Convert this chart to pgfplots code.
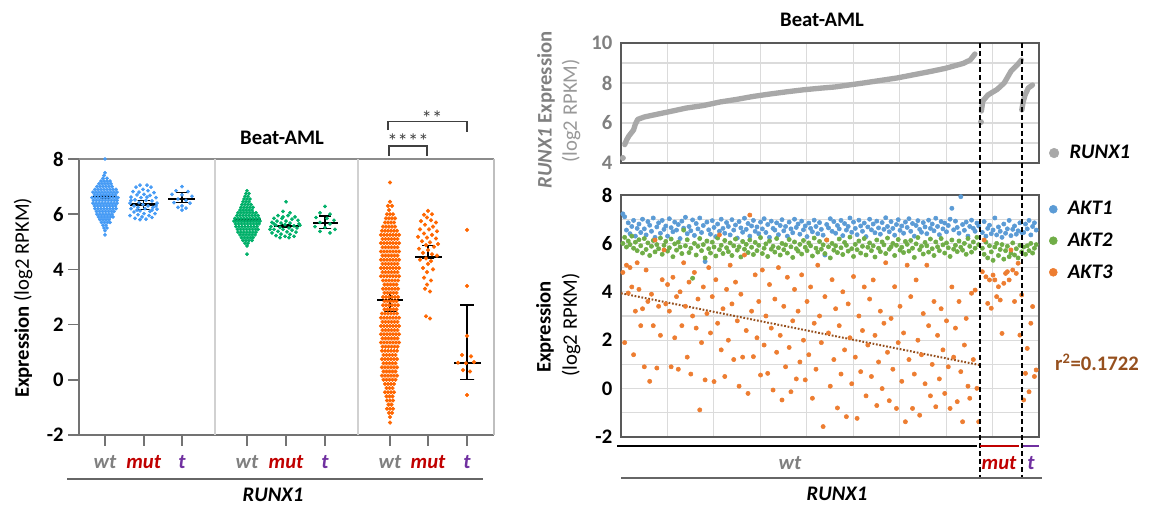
\documentclass[border=0pt]{standalone}
\usepackage{fontspec}
\setmainfont{Carlito}
\usepackage{pgfplots}
\usepackage{pgfplotstable}
\pgfplotsset{compat=1.18}
\definecolor{lblue}{RGB}{70,155,245}
\definecolor{lgreen}{RGB}{0,176,105}
\definecolor{lorange}{RGB}{255,102,0}
\definecolor{rblue}{RGB}{91,155,213}
\definecolor{rgreen}{RGB}{112,173,71}
\definecolor{rorange}{RGB}{237,125,49}
\definecolor{rgray}{RGB}{168,168,168}
\definecolor{wtc}{RGB}{128,128,128}
\definecolor{mutc}{RGB}{192,0,0}
\definecolor{tc}{RGB}{112,48,160}
\definecolor{brn}{RGB}{150,80,30}
\newcommand\F{\fontsize{15.5}{18.6}\selectfont}
\newcommand\swarm[3]{\pgfplotsinvokeforeach{#3}{\addplot[only marks, mark=*, mark size=1.2pt, color=#2, forget plot] table[x=##1, y=y] {#1};}}
\newcommand\med[3]{\addplot[black, line width=1.6pt, forget plot] coordinates {(#1,#3)(#2,#3)};}

\pgfplotstableread{
y a b c d e f g h i j
8.0 105 nan nan nan nan nan nan nan nan nan
7.5 105 nan nan nan nan nan nan nan nan nan
7.4 104 nan nan nan nan nan nan nan nan nan
7.3 103 107 nan nan nan nan nan nan nan nan
7.2 101 104 107 110 nan nan nan nan nan nan
7.1 99 102 105 108 111 nan nan nan nan nan
7.0 97 100 103 106 109 112 nan nan nan nan
6.9 95 98 101 104 107 110 113 116 nan nan
6.8 93 96 99 102 105 108 111 114 117 nan
6.7 94.5 97.5 100.5 103.5 106.5 109.5 112.5 115.5 nan nan
6.6 92 95 98 101 104 107 110 113 116 118
6.5 93.5 96.5 99.5 102.5 105.5 108.5 111.5 114.5 117 nan
6.4 93 96 99 102 105 108 111 114 117 nan
6.3 94.5 97.5 100.5 103.5 106.5 109.5 112.5 115.5 nan nan
6.2 95 98 101 104 107 110 113 116 nan nan
6.1 96.5 99.5 102.5 105.5 108.5 111.5 114 nan nan nan
6.0 97 100 103 106 109 112 nan nan nan nan
5.9 98.5 101.5 104.5 107.5 110.5 113 nan nan nan nan
5.8 100 103 106 109 nan nan nan nan nan nan
5.7 101.5 104.5 107.5 110 nan nan nan nan nan nan
5.6 103 106 nan nan nan nan nan nan nan nan
5.5 104 107 nan nan nan nan nan nan nan nan
5.4 105 nan nan nan nan nan nan nan nan nan
5.25 105 nan nan nan nan nan nan nan nan nan
}\bWT

\pgfplotstableread{
y a b c d e f g h i j
6.85 247 nan nan nan nan nan nan nan nan nan
6.75 246 249 nan nan nan nan nan nan nan nan
6.65 245 248 nan nan nan nan nan nan nan nan
6.55 244 247 250 nan nan nan nan nan nan nan
6.45 243 246 249 nan nan nan nan nan nan nan
6.35 242 245 248 251 nan nan nan nan nan nan
6.25 241 244 247 250 253 nan nan nan nan nan
6.15 240 243 246 249 252 nan nan nan nan nan
6.05 238 241 244 247 250 253 256 nan nan nan
5.95 237 240 243 246 249 252 255 258 nan nan
5.85 235 238 241 244 247 250 253 256 259 nan
5.75 234 237 240 243 246 249 252 255 258 260
5.65 235.5 238.5 241.5 244.5 247.5 250.5 253.5 256.5 259 nan
5.55 236 239 242 245 248 251 254 257 nan nan
5.45 237.5 240.5 243.5 246.5 249.5 252.5 255.5 258 nan nan
5.35 238 241 244 247 250 253 256 nan nan nan
5.25 240 243 246 249 252 255 nan nan nan nan
5.15 241.5 244.5 247.5 250.5 253 nan nan nan nan nan
5.05 243 246 249 252 nan nan nan nan nan nan
4.95 245 248 nan nan nan nan nan nan nan nan
4.85 247 nan nan nan nan nan nan nan nan nan
4.55 247 nan nan nan nan nan nan nan nan nan
}\gWT

\pgfplotstableread{
y a b c d e f g
7.15 390 nan nan nan nan nan nan
6.45 390 nan nan nan nan nan nan
6.3 388 392 nan nan nan nan nan
6.15 389 nan nan nan nan nan nan
6.0 387 390 393 nan nan nan nan
5.85 386 389 392 395 nan nan nan
5.7 385 388 391 394 nan nan nan
5.55 383 386 389 392 395 nan nan
5.4 382 385 388 391 394 397 nan
5.25 381 384 387 390 393 396 399
5.1 382.5 385.5 388.5 391.5 394.5 397.5 nan
4.95 381 384 387 390 393 396 399
4.8 382.5 385.5 388.5 391.5 394.5 397.5 nan
4.65 381 384 387 390 393 396 399
4.5 382.5 385.5 388.5 391.5 394.5 397.5 nan
4.35 381 384 387 390 393 396 399
4.2 382.5 385.5 388.5 391.5 394.5 397.5 nan
4.05 381 384 387 390 393 396 399
3.9 382.5 385.5 388.5 391.5 394.5 397.5 nan
3.75 381 384 387 390 393 396 399
3.6 383 386 389 392 395 398 nan
3.45 384.5 387.5 390.5 393.5 396.5 nan nan
3.3 383 386 389 392 395 398 nan
3.15 384.5 387.5 390.5 393.5 396.5 nan nan
3.0 383 386 389 392 395 398 nan
2.85 384.5 387.5 390.5 393.5 396.5 nan nan
2.7 383 386 389 392 395 398 nan
2.55 384.5 387.5 390.5 393.5 396.5 nan nan
2.4 382 385 388 391 394 397 nan
2.25 381 384 387 390 393 396 399
2.1 382.5 385.5 388.5 391.5 394.5 397.5 nan
1.95 381 384 387 390 393 396 399
1.8 382.5 385.5 388.5 391.5 394.5 397.5 nan
1.65 381 384 387 390 393 396 399
1.5 382.5 385.5 388.5 391.5 394.5 397.5 nan
1.35 381 384 387 390 393 396 399
1.2 382.5 385.5 388.5 391.5 394.5 397.5 nan
1.05 382 385 388 391 394 397 nan
0.9 383.5 386.5 389.5 392.5 395.5 nan nan
0.75 382 385 388 391 394 397 nan
0.6 383.5 386.5 389.5 392.5 395.5 nan nan
0.45 382 385 388 391 394 397 nan
0.3 383.5 386.5 389.5 392.5 395.5 nan nan
0.15 382 385 388 391 394 397 nan
0.0 383.5 386.5 389.5 392.5 395.5 nan nan
-0.15 385 388 391 394 nan nan nan
-0.3 386.5 389.5 392.5 nan nan nan nan
-0.45 385 388 391 394 nan nan nan
-0.6 386.5 389.5 392.5 nan nan nan nan
-0.75 387 390 393 nan nan nan nan
-0.9 388.5 391.5 nan nan nan nan nan
-1.05 387 390 393 nan nan nan nan
-1.2 389 392 nan nan nan nan nan
-1.35 390 nan nan nan nan nan nan
-1.55 390 nan nan nan nan nan nan
}\oWT

\pgfplotstableread{
a b c
7.22 6.00 4.80
7.10 6.25 1.90
6.55 5.85 5.10
6.85 6.10 3.95
6.40 5.95 5.00
6.70 6.30 4.20
6.95 5.80 1.40
6.30 6.05 3.20
6.62 5.70 5.20
6.80 6.15 4.10
6.45 5.90 2.60
7.00 5.60 3.30
6.60 6.20 0.90
6.35 5.75 4.90
6.90 6.02 3.60
6.75 5.50 0.30
6.50 5.88 3.90
7.05 6.12 2.60
6.25 5.65 6.14
6.68 5.95 0.85
6.85 5.78 3.40
6.42 6.22 2.20
6.95 5.55 4.50
6.58 5.92 5.73
6.72 6.08 3.50
6.30 5.68 4.30
7.02 5.82 3.20
6.65 6.18 0.90
6.48 5.45 4.60
6.88 5.98 2.10
6.55 5.72 3.80
6.78 6.05 0.80
6.20 5.85 4.00
6.92 5.58 2.60
6.63 6.55 5.20
7.08 5.90 3.40
6.40 6.15 1.30
6.70 5.62 4.40
6.52 5.80 0.60
6.97 4.56 3.00
6.33 6.00 4.80
6.82 5.52 2.50
6.60 5.88 3.70
7.05 6.20 -0.88
6.45 5.70 1.90
6.74 5.95 4.20
5.25 5.40 0.36
6.88 6.10 3.10
6.56 5.78 5.00
6.38 5.60 2.30
6.94 6.05 3.80
6.66 5.85 0.29
6.28 5.48 4.50
6.80 6.22 2.70
6.50 5.74 6.35
7.00 5.92 1.60
6.62 5.58 3.30
6.42 6.12 0.50
6.86 5.82 4.10
6.70 5.66 2.00
6.35 6.02 5.10
6.98 5.50 3.50
6.55 5.90 1.20
6.76 6.18 4.40
6.22 5.72 2.80
6.90 5.86 0.10
6.64 5.44 3.90
6.46 6.08 1.30
7.04 5.76 5.52
6.58 5.96 2.40
6.82 5.62 -0.20
6.30 6.14 7.17
6.72 5.84 3.20
6.95 5.54 1.32
6.50 6.04 4.70
6.68 5.70 2.10
6.40 5.92 3.60
6.88 6.24 0.56
6.60 5.58 4.90
7.02 5.80 1.80
6.45 5.98 3.00
6.78 5.46 0.63
6.25 6.10 4.30
6.92 5.76 2.50
6.62 5.88 -0.06
6.55 5.64 3.70
6.85 6.20 1.50
6.36 5.82 5.00
6.74 5.52 2.20
6.98 6.00 -0.47
6.52 5.74 3.40
6.70 5.94 0.90
6.30 5.60 4.60
6.88 6.16 1.70
6.60 5.86 -0.13
6.44 5.42 2.80
7.00 6.06 4.10
6.66 5.78 0.40
6.80 5.68 3.20
6.38 5.96 1.10
6.92 5.56 4.70
6.56 6.12 2.00
6.72 5.84 0.36
6.28 5.70 3.60
6.84 6.02 1.40
6.62 5.90 4.20
6.48 5.48 -0.40
6.96 6.22 2.70
6.70 5.80 0.80
6.40 5.64 5.10
6.86 6.08 3.00
6.58 5.76 1.90
6.34 5.94 -1.57
5.52 5.58 3.80
6.78 6.14 6.14
6.64 5.86 2.30
7.02 5.40 0.10
6.50 6.00 4.50
6.90 5.72 1.20
6.42 5.90 3.30
6.74 5.62 -0.80
6.60 6.18 2.60
6.95 5.82 0.60
6.32 5.54 4.00
6.82 6.04 1.60
6.55 5.92 -1.16
6.70 5.68 3.50
7.05 6.26 2.10
6.46 5.78 0.20
6.88 5.46 4.63
6.62 5.96 1.30
6.36 5.74 -1.23
6.96 6.10 3.00
6.72 5.60 0.70
6.50 5.88 2.40
6.84 6.20 4.20
6.28 5.52 -0.30
6.68 5.84 1.80
7.00 6.02 3.70
6.56 5.70 0.50
6.80 5.90 4.49
6.44 5.44 2.20
6.92 6.14 -0.70
6.64 5.80 1.10
6.38 5.66 3.20
6.86 6.06 0.00
6.58 5.94 2.70
7.06 5.58 5.20
6.70 6.22 1.50
6.48 5.76 -0.50
6.90 5.86 2.90
6.62 6.00 0.80
6.34 5.50 4.21
6.78 5.92 -0.82
6.98 6.16 1.90
6.54 5.72 3.40
6.72 5.84 0.30
6.42 5.62 2.30
6.88 6.08 -1.37
6.66 5.96 5.10
7.02 5.68 1.20
6.50 6.12 3.80
6.82 5.80 -0.82
6.30 5.42 0.60
6.74 5.98 4.49
6.94 6.24 2.00
6.58 5.74 -1.10
6.46 5.88 1.40
6.86 5.56 3.10
6.68 6.04 0.20
6.40 5.90 5.10
6.96 5.64 2.60
6.62 6.18 -0.30
6.80 5.78 1.00
6.52 5.50 3.60
7.04 6.06 -0.75
6.70 5.86 2.20
6.36 5.70 0.40
6.90 6.20 3.30
6.60 5.94 1.60
6.84 5.60 -0.20
6.48 6.02 2.80
6.74 5.82 0.90
7.00 5.46 -0.82
7.45 6.14 4.20
6.56 5.76 1.30
6.92 5.92 2.50
6.66 5.66 -0.54
6.42 6.10 3.60
7.93 5.84 0.70
6.78 5.72 -1.37
6.54 6.00 1.80
6.88 5.55 2.90
6.30 6.20 0.10
6.70 5.88 -0.40
6.96 5.64 3.94
6.62 6.06 1.20
6.50 5.80 4.07
6.84 6.25 0.01
6.72 5.95 -1.37
}\wtT

\pgfplotstableread{
a b c
6.45 5.80 4.83
6.90 5.55 6.14
6.30 6.05 4.62
6.62 5.40 3.52
6.75 5.90 4.49
6.40 5.65 3.32
6.55 5.30 4.69
7.05 5.85 4.49
6.35 6.00 3.80
6.68 5.50 4.21
6.50 5.75 3.66
6.25 5.95 2.28
6.80 5.35 4.35
6.42 5.70 4.76
6.60 5.88 4.83
6.95 5.45 4.49
6.32 5.60 5.73
6.58 6.02 4.90
6.72 5.52 3.60
6.38 5.78 4.76
6.52 5.40 5.18
6.85 5.92 2.21
6.45 5.65 3.87
}\mutT

\pgfplotstableread{
a b c
6.45 5.85 -0.47
6.80 5.55 0.63
6.60 5.90 1.66
6.95 5.70 -0.13
6.35 6.00 2.70
6.70 5.60 3.39
6.85 5.80 0.50
6.55 5.95 0.77
}\tT

\begin{document}
\begin{tikzpicture}[x=0.75pt,y=0.75pt]
\useasboundingbox (0,0) rectangle (1157,506);

% ---------------- left panel ----------------
\begin{axis}[at={(59.25pt,53.25pt)}, anchor=south west, scale only axis,
  width=311.25pt, height=207pt,
  xmin=79, xmax=494, ymin=-2, ymax=8, clip=false,
  axis x line*=bottom, axis y line*=left,
  x axis line style={-, draw=black!55, line width=1.2pt},
  y axis line style={-, draw=black!55, line width=1.2pt},
  xtick={105,143.7,182,247,286,325,390,428,467},
  xticklabels={\textcolor{wtc}{wt},\textcolor{mutc}{mut},\textcolor{tc}{t},\textcolor{wtc}{wt},\textcolor{mutc}{mut},\textcolor{tc}{t},\textcolor{wtc}{wt},\textcolor{mutc}{mut},\textcolor{tc}{t}},
  x tick label style={font=\F\bfseries\itshape, yshift=-3.5pt},
  ytick={-2,0,2,4,6,8}, yticklabels={-2,0,2,4,6,8},
  y tick label style={font=\F\bfseries, xshift=0pt},
  tick align=outside, major tick length=8pt,
  tick style={black!55, line width=1.2pt},
]
\draw[black!45, line width=1.2pt] (rel axis cs:0,1) -- (rel axis cs:1,1);
\draw[black!25, line width=1.2pt] (rel axis cs:1,1) -- (rel axis cs:1,0);
\draw[black!18, line width=1.2pt] (axis cs:215,-2) -- (axis cs:215,8);
\draw[black!18, line width=1.2pt] (axis cs:358,-2) -- (axis cs:358,8);

\swarm{\bWT}{lblue}{a,b,c,d,e,f,g,h,i,j}
\addplot[only marks, mark=*, mark size=1.2pt, color=lblue, forget plot] coordinates {
(140,7.05)(147,7.05)(136,6.98)(151,6.98)(143,6.9)(133,6.82)(139,6.8)(148,6.85)(154,6.78)(137,6.7)(144,6.72)(150,6.68)(131,6.62)(141,6.6)(156,6.6)(147,6.62)(135,6.52)(146,6.5)(152,6.48)(131,6.5)(139,6.42)(130,6.4)(157,6.4)(143,6.35)(148,6.3)(134,6.3)(156,6.3)(138,6.25)(153,6.25)(131,6.2)(145,6.2)(157,6.18)(137,6.15)(152,6.15)(140,6.12)(150,6.1)(134,6.08)(144,6.02)(155,6.02)(138,5.98)(130,5.95)(149,5.95)(142,5.9)(135,5.85)(152,5.88)(146,5.82)(140,5.8)};
\addplot[only marks, mark=*, mark size=1.2pt, color=lblue, forget plot] coordinates {
(182,7.0)(176,6.85)(188,6.82)(172,6.72)(182,6.7)(192,6.65)(178,6.55)(186,6.5)(174,6.42)(190,6.4)(182,6.3)(178,6.25)(186,6.22)(182,6.15)};

\swarm{\gWT}{lgreen}{a,b,c,d,e,f,g,h,i,j}
\addplot[only marks, mark=*, mark size=1.2pt, color=lgreen, forget plot] coordinates {
(286,6.45)(283,6.1)(290,6.05)(278,5.95)(288,5.95)(295,5.9)(274,5.85)(282,5.85)(292,5.82)(298,5.78)(277,5.75)(286,5.75)(272,5.7)(281,5.68)(290,5.68)(299,5.65)(276,5.6)(285,5.62)(294,5.58)(271,5.55)(280,5.52)(289,5.5)(297,5.5)(274,5.45)(283,5.45)(292,5.42)(278,5.38)(287,5.36)(296,5.35)(272,5.32)(281,5.28)(290,5.27)(276,5.22)(285,5.2)(294,5.2)(280,5.15)(289,5.15)(274,5.65)(300,5.6)(283,5.9)(270,5.45)};
\addplot[only marks, mark=*, mark size=1.2pt, color=lgreen, forget plot] coordinates {
(325,6.28)(320,6.05)(330,6.0)(316,5.88)(327,5.85)(334,5.78)(320,5.7)(330,5.65)(315,5.55)(325,5.52)(335,5.45)(320,5.38)(330,5.32)};

\pgfplotsinvokeforeach{a,b,c,d,e,f,g}{\addplot[only marks, mark=*, mark size=1.35pt, color=lorange, forget plot] table[x=#1, y=y] {\oWT};}
\addplot[only marks, mark=*, mark size=1.35pt, color=lorange, forget plot] coordinates {
(428,6.12)(424,5.98)(432,6.0)(427,5.88)(421,5.75)(431,5.78)(436,5.7)(425,5.62)(433,5.55)(420,5.45)(429,5.45)(437,5.38)(424,5.3)(432,5.25)(418,5.18)(427,5.15)(436,5.12)(422,5.02)(430,4.98)(438,4.92)(426,4.88)(434,4.82)(419,4.75)(428,4.7)(423,4.6)(432,4.55)(437,4.5)(426,4.4)(420,4.35)(431,4.3)(428,4.2)(423,4.05)(433,4.0)(427,3.9)(424,3.7)(431,3.6)(427,3.45)(425,3.3)(430,3.2)(426,2.3)(430,2.22)};
\addplot[only marks, mark=*, mark size=1.35pt, color=lorange, forget plot] coordinates {
(467,5.43)(467,3.4)(467,1.59)(462,0.9)(471,0.85)(458,0.62)(466,0.6)(474,0.64)(463,0.35)(470,0.3)(467,-0.55)};

% medians and error bars
\med{93}{117}{6.63}
\med{130}{157}{6.35}
\med{168}{195}{6.55}
\med{234}{261}{5.79}
\med{274}{299}{5.58}
\med{313}{338}{5.69}
\med{377}{403}{2.89}
\med{415}{442}{4.46}
\med{454}{481}{0.6}
\addplot[black, line width=1pt, forget plot] coordinates {(100,6.58)(110,6.58)(105,6.58)(105,6.68)(100,6.68)(110,6.68)};
\addplot[black, line width=1pt, forget plot] coordinates {(137.7,6.17)(149.7,6.17)(143.7,6.17)(143.7,6.49)(137.7,6.49)(149.7,6.49)};
\addplot[black, line width=1pt, forget plot] coordinates {(176,6.43)(188,6.43)(182,6.43)(182,6.79)(176,6.79)(188,6.79)};
\addplot[black, line width=1pt, forget plot] coordinates {(242,5.75)(252,5.75)(247,5.75)(247,5.83)(242,5.83)(252,5.83)};
\addplot[black, line width=1pt, forget plot] coordinates {(281,5.53)(291,5.53)(286,5.53)(286,5.63)(281,5.63)(291,5.63)};
\addplot[black, line width=1pt, forget plot] coordinates {(319,5.49)(331,5.49)(325,5.49)(325,5.93)(319,5.93)(331,5.93)};
\addplot[black, line width=1pt, forget plot] coordinates {(383.5,2.47)(396.5,2.47)(390,2.47)(390,3.16)(383.5,3.16)(396.5,3.16)};
\addplot[black, line width=1pt, forget plot] coordinates {(422,4.4)(434,4.4)(428,4.4)(428,4.86)(422,4.86)(434,4.86)};
\addplot[black, line width=1pt, forget plot] coordinates {(460,0.0)(474,0.0)(467,0.0)(467,2.71)(460,2.71)(474,2.71)};

% significance brackets
\draw[black!75, line width=0.9pt] (axis cs:389,8.11) -- (axis cs:389,8.47) -- (axis cs:427,8.47) -- (axis cs:427,8.11);
\draw[black!75, line width=0.9pt] (axis cs:388,9.05) -- (axis cs:388,9.35) -- (axis cs:467,9.35) -- (axis cs:467,8.98);
\node[font=\F, text=black!75, anchor=base] at (axis cs:408,8.38) {****};
\node[font=\F, text=black!75, anchor=base] at (axis cs:432,9.22) {**};
\end{axis}

\node[font=\F\bfseries] at (282,368) {Beat-AML};
\node[font=\F, rotate=90] at (23,208) {\textbf{Expression} (log2 RPKM)};
\draw[black!60, line width=1.5pt] (67,27) -- (483,27);
\node[font=\F\bfseries\itshape] at (273,11) {RUNX1};

% ---------------- right top ----------------
\begin{axis}[at={(465.75pt,257.25pt)}, anchor=south west, scale only axis,
  width=313.5pt, height=90pt,
  xmin=0, xmax=9, ymin=4, ymax=10,
  xtick={0,1,...,9}, xticklabels={},
  ytick={4,6,8,10}, yticklabels={4,6,8,10}, minor ytick={5,7,9},
  grid=both, major grid style={black!14, line width=0.9pt}, minor grid style={black!14, line width=0.9pt},
  major tick length=0pt, minor tick length=0pt,
  axis line style={black!65, line width=1.1pt},
  y tick label style={font=\F\bfseries, text=black!50, xshift=-3pt},
  legend style={at={(1.024,0.083)}, anchor=west, draw=none, fill=none, inner sep=0pt, font=\F\bfseries\itshape, /tikz/every odd column/.append style={column sep=6pt}},
  legend cell align=left,
]
\addplot[rgray, line width=4pt, line cap=round, line join=round, forget plot] coordinates {
(0.08,4.92)(0.12,5.15)(0.17,5.35)(0.22,5.5)(0.27,5.65)(0.31,5.95)(0.36,6.18)(0.5,6.3)(0.7,6.4)(1.05,6.57)(1.41,6.75)(1.77,6.87)(2.13,7.05)(2.49,7.18)(2.85,7.33)(3.21,7.45)(3.57,7.56)(3.93,7.66)(4.29,7.74)(4.6,7.8)(5.22,8.0)(5.94,8.25)(6.65,8.57)(6.98,8.73)(7.37,8.98)(7.52,9.15)(7.62,9.45)};
\addplot[rgray, line width=4pt, line cap=round, line join=round, forget plot] coordinates {
(7.76,6.6)(7.79,7.1)(7.9,7.4)(8.1,7.68)(8.25,8.0)(8.4,8.6)(8.55,8.95)(8.62,9.15)};
\addplot[rgray, line width=4pt, line cap=round, line join=round, forget plot] coordinates {
(8.63,6.65)(8.66,7.07)(8.7,7.4)(8.77,7.75)(8.86,7.9)};
\addplot[only marks, mark=*, mark size=2pt, rgray, forget plot] coordinates {(0.04,4.25)(7.75,6.05)};
\addlegendimage{only marks, mark=*, mark size=3.6pt, color=rgray}
\addlegendentry{RUNX1}
\end{axis}

% ---------------- right bottom ----------------
\begin{axis}[at={(465.75pt,51.75pt)}, anchor=south west, scale only axis,
  width=313.5pt, height=181.5pt,
  xmin=0, xmax=9, ymin=-2, ymax=8,
  xtick={0,1,...,9}, xticklabels={},
  ytick={-2,0,2,4,6,8}, yticklabels={-2,0,2,4,6,8}, minor ytick={-1,1,3,5,7},
  grid=both, major grid style={black!14, line width=0.9pt}, minor grid style={black!14, line width=0.9pt},
  major tick length=0pt, minor tick length=0pt,
  axis line style={black!65, line width=1.1pt},
  y tick label style={font=\F\bfseries, xshift=-3pt},
  legend style={at={(1.024,0.985)}, anchor=north west, draw=none, fill=none, inner sep=0pt, row sep=8pt, font=\F\bfseries\itshape, /tikz/every odd column/.append style={column sep=6pt}},
  legend cell align=left,
  legend image post style={mark size=3pt},
]
\addplot[only marks, mark=*, mark size=1.6pt, color=rblue] table[x expr=\coordindex*0.0385+0.04, y=a] {\wtT};
\addlegendentry{AKT1}
\addplot[only marks, mark=*, mark size=1.6pt, color=rgreen] table[x expr=\coordindex*0.0385+0.04, y=b] {\wtT};
\addlegendentry{AKT2}
\addplot[only marks, mark=*, mark size=1.6pt, color=rorange] table[x expr=\coordindex*0.0385+0.04, y=c] {\wtT};
\addlegendentry{AKT3}
\addplot[only marks, mark=*, mark size=1.6pt, color=rblue, forget plot] table[x expr=\coordindex*0.0385+7.78, y=a] {\mutT};
\addplot[only marks, mark=*, mark size=1.6pt, color=rgreen, forget plot] table[x expr=\coordindex*0.0385+7.78, y=b] {\mutT};
\addplot[only marks, mark=*, mark size=1.6pt, color=rorange, forget plot] table[x expr=\coordindex*0.0385+7.78, y=c] {\mutT};
\addplot[only marks, mark=*, mark size=1.6pt, color=rblue, forget plot] table[x expr=\coordindex*0.0385+8.67, y=a] {\tT};
\addplot[only marks, mark=*, mark size=1.6pt, color=rgreen, forget plot] table[x expr=\coordindex*0.0385+8.67, y=b] {\tT};
\addplot[only marks, mark=*, mark size=1.6pt, color=rorange, forget plot] table[x expr=\coordindex*0.0385+8.67, y=c] {\tT};
\addplot[brn, line width=1.5pt, dash pattern=on 1.3pt off 1.3pt, forget plot] coordinates {(0,3.94)(7.73,0.97)};
\end{axis}

% dashed separators and group bars
\draw[black, line width=0.9pt, dash pattern=on 3.5pt off 2.5pt] (980,463) -- (980,28);
\draw[black, line width=0.9pt, dash pattern=on 3.5pt off 2.5pt] (1022,463) -- (1022,28);
\draw[black, line width=2.2pt] (617,60) -- (977,60);
\draw[mutc, line width=1.6pt] (980,60) -- (1019,60);
\draw[tc, line width=1.6pt] (1023,60) -- (1039,60);
\draw[black!60, line width=1.3pt] (621,28) -- (1042,28);

\node[font=\F\bfseries] at (822,486) {Beat-AML};
\node[font=\F\bfseries, rotate=90, text=black!50] at (546,396) {\textit{RUNX1} Expression};
\node[font=\F, rotate=90, text=black!40] at (571,395) {(log2 RPKM)};
\node[font=\F\bfseries, rotate=90] at (545,179) {Expression};
\node[font=\F, rotate=90] at (571,181) {(log2 RPKM)};
\node[font=\F\bfseries, text=brn] at (1097,144) {r\textsuperscript{2}=0.1722};
\node[font=\F\bfseries\itshape, text=wtc] at (790,43) {wt};
\node[font=\F\bfseries\itshape, text=mutc] at (999,43) {mut};
\node[font=\F\bfseries\itshape, text=tc] at (1031,43) {t};
\node[font=\F\bfseries\itshape] at (837,12) {RUNX1};
\end{tikzpicture}
\end{document}
